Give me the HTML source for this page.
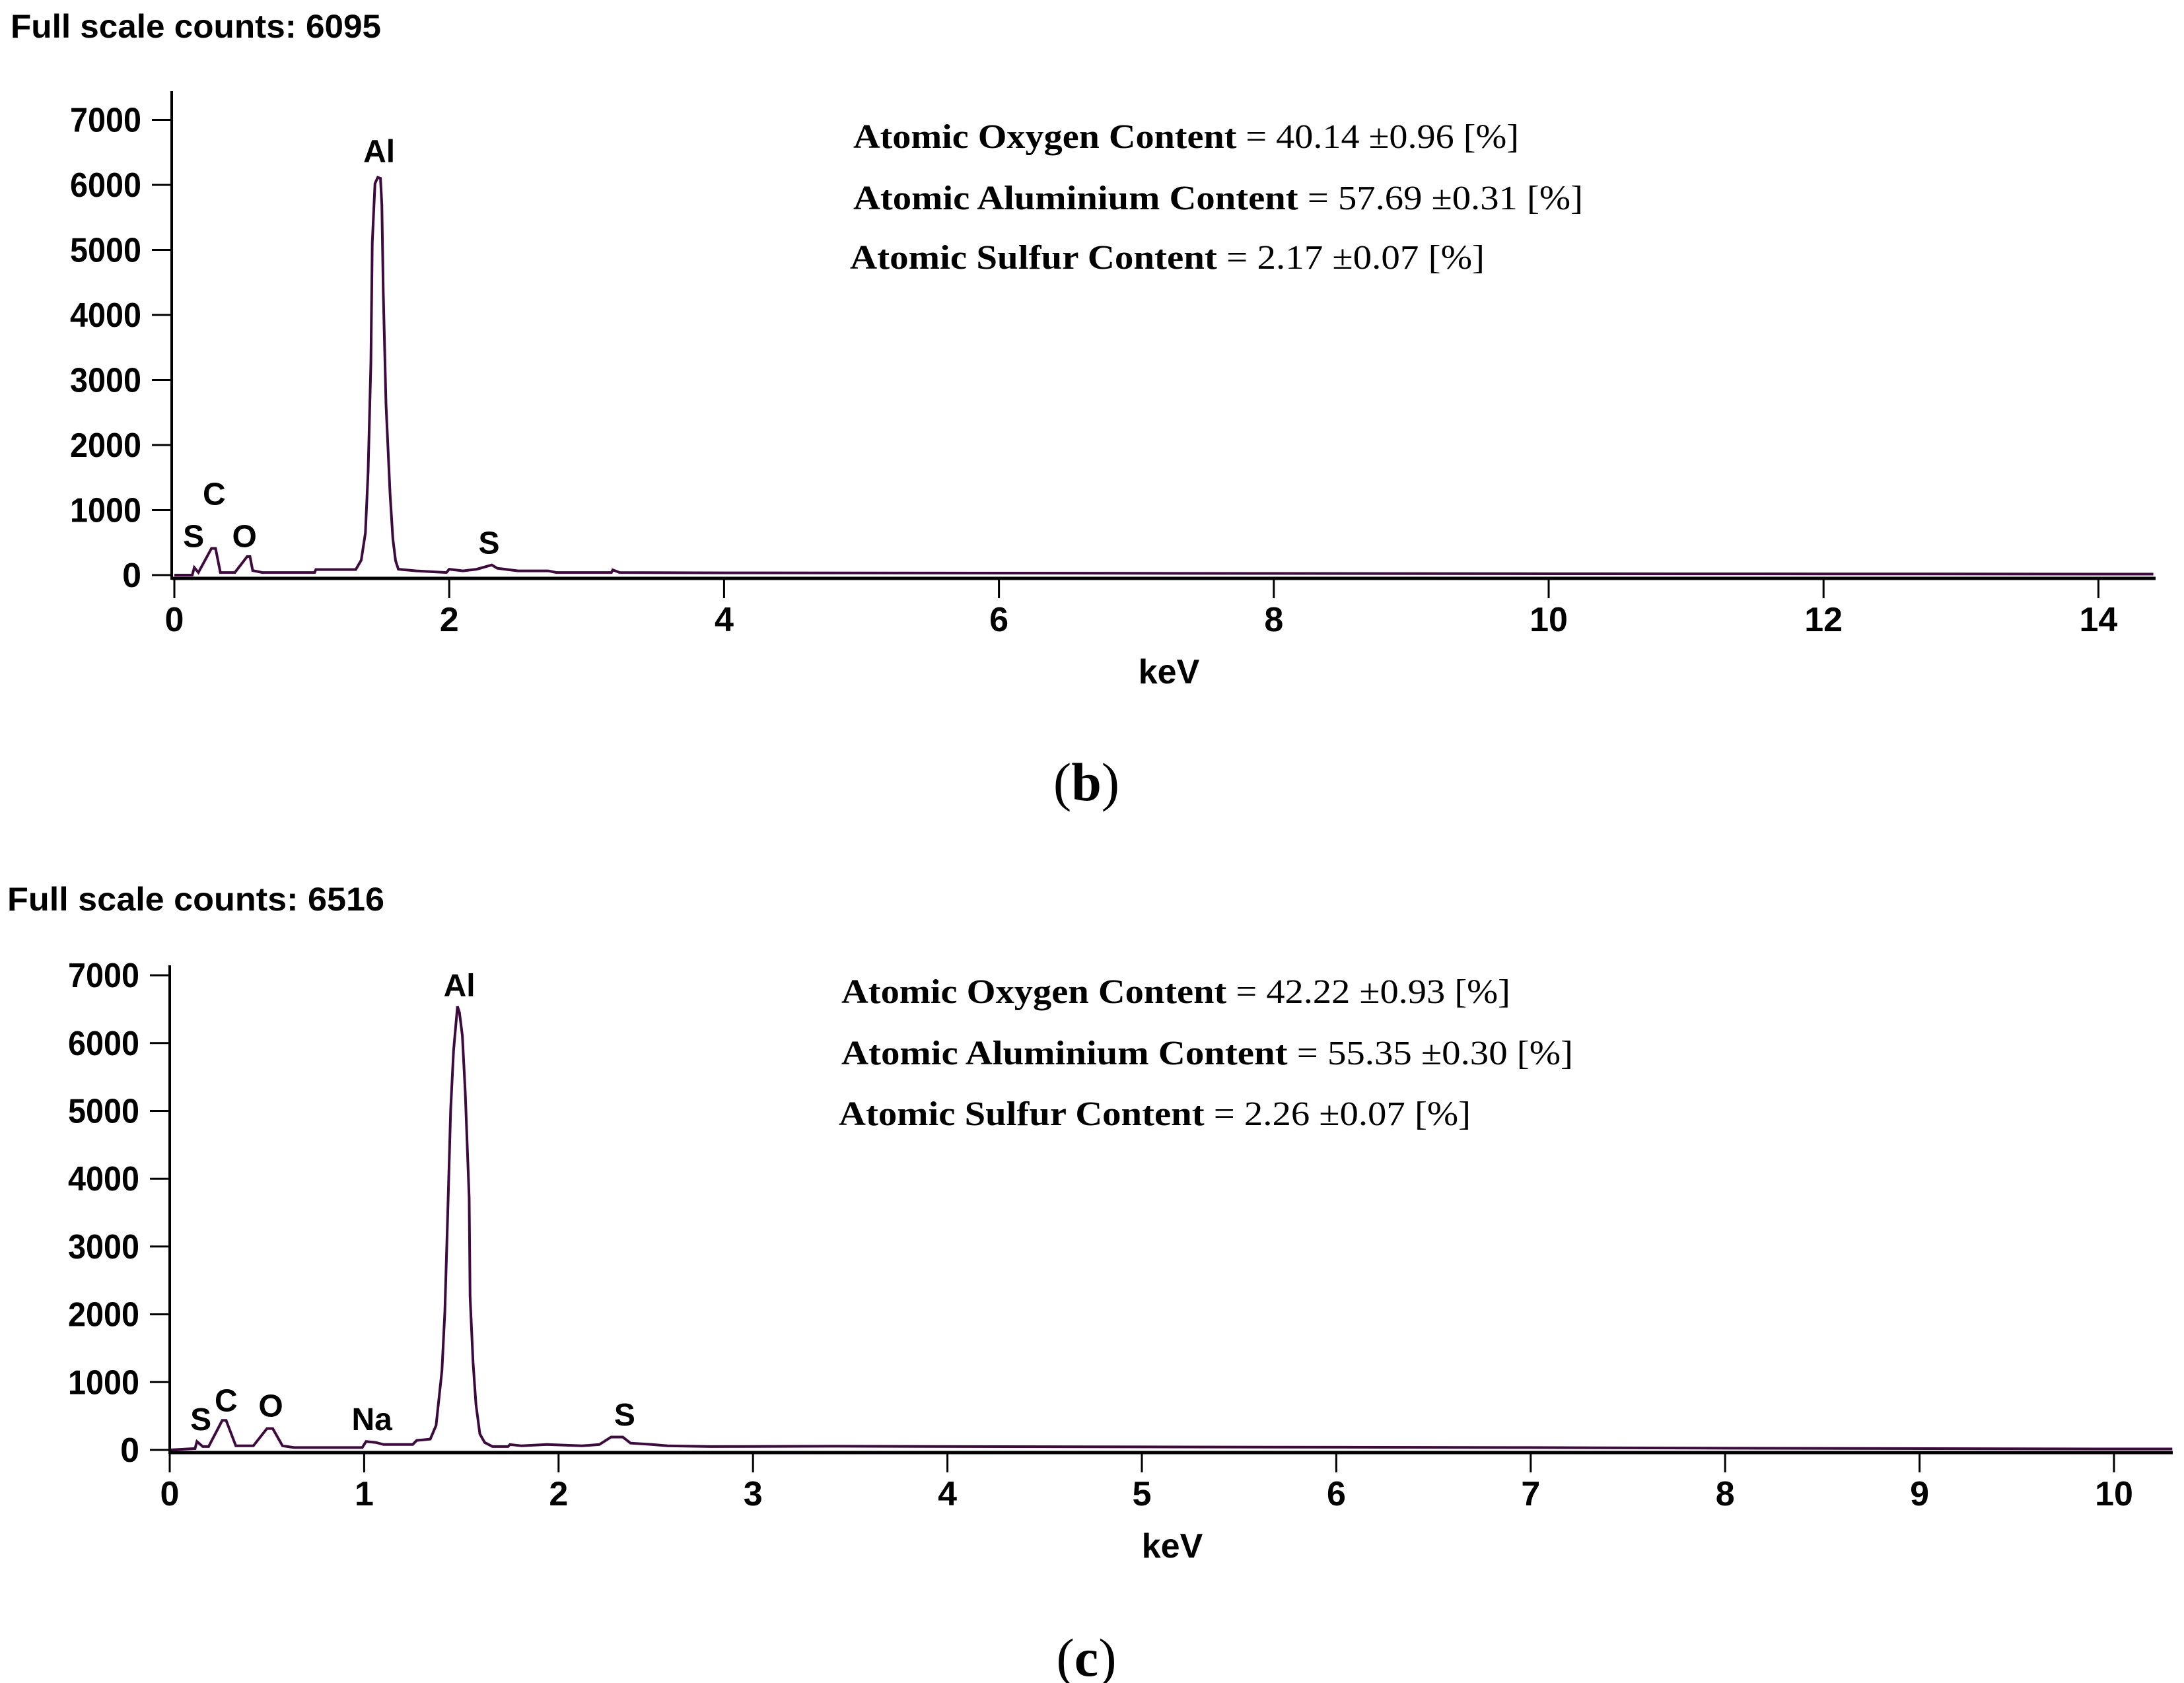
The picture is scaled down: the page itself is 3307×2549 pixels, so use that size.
<!DOCTYPE html>
<html><head><meta charset="utf-8">
<style>
html,body{margin:0;padding:0;background:#fff;}
svg{display:block;}
.sans{font-family:"Liberation Sans",sans-serif;font-weight:bold;}
.serif{font-family:"Liberation Serif",serif;}
</style></head>
<body>
<svg id="fig" xmlns="http://www.w3.org/2000/svg" width="3307" height="2549" viewBox="0 0 3307 2549">
<rect width="3307" height="2549" fill="#fff"/>
<g id="chartB"></g>
<g id="chartC"></g>

<text class="sans" x="16" y="57" font-size="50" textLength="561" lengthAdjust="spacingAndGlyphs">Full scale counts: 6095</text>
<text class="sans" x="11" y="1379" font-size="50" textLength="571" lengthAdjust="spacingAndGlyphs">Full scale counts: 6516</text>

<g class="serif" font-size="52">
<text x="1292" y="224" textLength="1008" lengthAdjust="spacingAndGlyphs"><tspan font-weight="bold">Atomic Oxygen Content</tspan> = 40.14 ±0.96 [%]</text>
<text x="1292" y="317" textLength="1105" lengthAdjust="spacingAndGlyphs"><tspan font-weight="bold">Atomic Aluminium Content</tspan> = 57.69 ±0.31 [%]</text>
<text x="1287" y="407" textLength="961" lengthAdjust="spacingAndGlyphs"><tspan font-weight="bold">Atomic Sulfur Content</tspan> = 2.17 ±0.07 [%]</text>
</g>
<g class="serif" font-size="52">
<text x="1274" y="1519" textLength="1013" lengthAdjust="spacingAndGlyphs"><tspan font-weight="bold">Atomic Oxygen Content</tspan> = 42.22 ±0.93 [%]</text>
<text x="1274" y="1612" textLength="1108" lengthAdjust="spacingAndGlyphs"><tspan font-weight="bold">Atomic Aluminium Content</tspan> = 55.35 ±0.30 [%]</text>
<text x="1270" y="1704" textLength="957" lengthAdjust="spacingAndGlyphs"><tspan font-weight="bold">Atomic Sulfur Content</tspan> = 2.26 ±0.07 [%]</text>
</g>

<text class="serif" x="1645" y="1212" font-size="82" text-anchor="middle">(<tspan font-weight="bold">b</tspan>)</text>
<text class="serif" x="1645" y="2538" font-size="82" text-anchor="middle">(<tspan font-weight="bold">c</tspan>)</text>
</svg>

<script>
// ---- Spectrum (b) data ----
const energyB = [0,0.13,0.145,0.175,0.27,0.3,0.335,0.44,0.53,0.55,0.57,0.64,1.02,1.03,1.32,1.36,1.39,1.41,1.43,1.44,1.46,1.48,1.50,1.51,1.52,1.54,1.57,1.59,1.61,1.63,1.76,1.98,2.0,2.1,2.2,2.31,2.35,2.5,2.72,2.78,3.18,3.19,3.24,4,6,8,10,12,14.4];
const countsB = [0,0,117,40,410,410,40,40,285,285,70,40,40,85,85,230,650,1590,3270,5110,6020,6115,6100,5690,4370,2620,1235,555,220,90,65,40,90,65,90,155,105,65,65,40,40,80,40,35,30,25,20,18,15];
const yTicksB = [0,1000,2000,3000,4000,5000,6000,7000];
const xTicksB = [0,2,4,6,8,10,12,14];
const peakLabelsB = ["S","C","O","Al","S"];
const peakEnergyB = [0.14,0.29,0.51,1.49,2.29];
const peakCountsB = [430,1080,430,6350,330];

// ---- Spectrum (c) data ----
const energyC = [0,0.13,0.14,0.17,0.2,0.27,0.29,0.34,0.43,0.5,0.53,0.58,0.64,0.99,1.01,1.06,1.1,1.25,1.27,1.34,1.37,1.4,1.415,1.43,1.445,1.46,1.48,1.49,1.505,1.52,1.54,1.545,1.56,1.575,1.595,1.62,1.66,1.74,1.75,1.81,1.94,2.12,2.21,2.27,2.33,2.37,2.48,2.56,2.78,3.4,5,6,7,8,10,10.3];
const countsC = [0,20,125,50,50,435,435,60,60,315,315,60,35,35,125,110,80,80,140,160,360,1170,2040,3500,5020,5890,6540,6450,6110,5270,3720,2260,1290,670,235,110,50,50,80,60,80,60,80,190,190,100,80,60,50,55,45,40,35,25,15,15];
const yTicksC = [0,1000,2000,3000,4000,5000,6000,7000];
const xTicksC = [0,1,2,3,4,5,6,7,8,9,10];
const peakLabelsC = ["S","C","O","Na","Al","S"];
const peakEnergyC = [0.16,0.29,0.52,1.04,1.49,2.34];
const peakCountsC = [290,570,490,290,6690,360];

const NS = "http://www.w3.org/2000/svg";
function mk(tag, attrs, parent){
  const e = document.createElementNS(NS, tag);
  for (const k in attrs) e.setAttribute(k, attrs[k]);
  parent.appendChild(e);
  return e;
}

function drawChart(g, cfg, energy, counts, yTicks, xTicks, labels, lE, lC, id){
  const xs = v => cfg.x0 + v * cfg.pxPerKeV;
  const ys = v => cfg.y0 - v * cfg.pxPerCount;
  let d = "";
  for (let i = 0; i < energy.length; i++) {
    d += (i ? "L" : "M") + xs(energy[i]).toFixed(1) + " " + ys(counts[i]).toFixed(1);
  }
  const line = mk("path", {d: d, fill: "none", stroke: "#3d0a3d", "stroke-width": 4, "stroke-linejoin": "miter"}, g);
  
  
  const yAxis = mk("line", {x1: cfg.axisX, y1: cfg.yTop, x2: cfg.axisX, y2: cfg.axisY + 2, stroke: "#000", "stroke-width": 4}, g);
  
  
  const xAxis = mk("line", {x1: cfg.axisX, y1: cfg.axisY, x2: cfg.xEnd, y2: cfg.axisY, stroke: "#000", "stroke-width": 5}, g);
  
  
  yTicks.forEach(t => {
    const y = ys(t);
    const tk = mk("line", {x1: cfg.axisX - 30, y1: y, x2: cfg.axisX, y2: y, stroke: "#000", "stroke-width": 3}, g);
    
    
    const tx = mk("text", {x: cfg.axisX - 46, y: y + 18, "text-anchor": "end", "font-size": 52, "class": "sans"}, g);
    
    
    tx.textContent = String(t);
    if (String(t).length === 4) { tx.setAttribute("textLength", 108); tx.setAttribute("lengthAdjust", "spacingAndGlyphs"); }
  });
  xTicks.forEach(t => {
    const x = xs(t);
    const tk = mk("line", {x1: x, y1: cfg.axisY, x2: x, y2: cfg.axisY + 30, stroke: "#000", "stroke-width": 3}, g);
    
    
    const tx = mk("text", {x: x, y: cfg.axisY + 80, "text-anchor": "middle", "font-size": 52, "class": "sans"}, g);
    
    
    tx.textContent = String(t);
  });
  const kt = mk("text", {x: cfg.titleX, y: cfg.axisY + 159, "text-anchor": "middle", "font-size": 52, "class": "sans"}, g);
  
  
  kt.textContent = "keV";
  labels.forEach((s, i) => {
    const tx = mk("text", {x: xs(lE[i]), y: ys(lC[i]), "text-anchor": "middle", "font-size": 48, "class": "sans"}, g);
    
    
    if (s === "C" || s === "O") tx.setAttribute("font-weight", "normal");
    tx.textContent = s;
  });
}

const cfgB = {x0: 264, pxPerKeV: 208.1, y0: 871, pxPerCount: 0.0985, axisX: 260, axisY: 876, yTop: 138, xEnd: 3264, titleX: 1770};
const cfgC = {x0: 257, pxPerKeV: 294.4, y0: 2196, pxPerCount: 0.1027, axisX: 257, axisY: 2200, yTop: 1462, xEnd: 3290, titleX: 1775};

drawChart(document.getElementById("chartB"), cfgB, energyB, countsB, yTicksB, xTicksB, peakLabelsB, peakEnergyB, peakCountsB, "b");
drawChart(document.getElementById("chartC"), cfgC, energyC, countsC, yTicksC, xTicksC, peakLabelsC, peakEnergyC, peakCountsC, "c");
</script>
</body></html>
